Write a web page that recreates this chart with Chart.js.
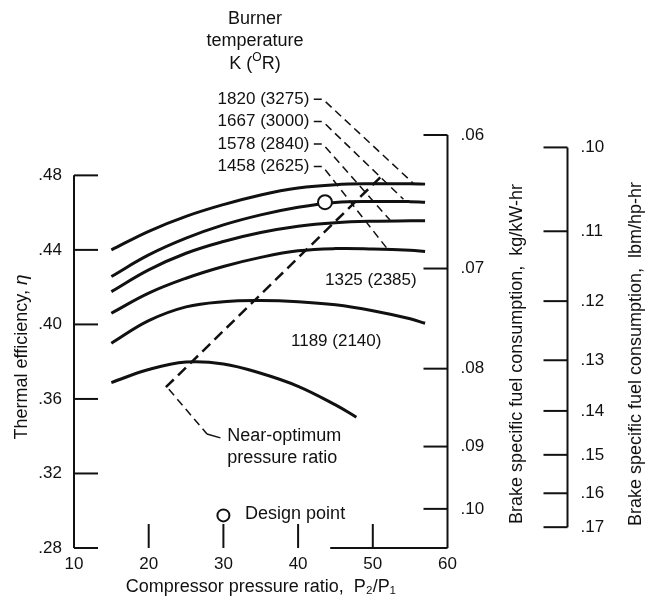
<!DOCTYPE html>
<html>
<head>
<meta charset="utf-8">
<script src="https://cdn.jsdelivr.net/npm/chart.js@4.4.1/dist/chart.umd.min.js"></script>
<style>
  html, body { margin: 0; padding: 0; background: #fff; }
  #wrap { width: 647px; height: 603px; }
</style>
</head>
<body>
<div id="wrap"><canvas id="chart" width="647" height="603"></canvas></div>
<script>
// compressor pressure ratio P2/P1 (x) and thermal efficiency per burner temperature
const pressureRatio = [15, 20, 25, 30, 35, 40, 45, 50, 55, 57];
const eta1820 = [0.4400, 0.4500, 0.4580, 0.4643, 0.4695, 0.4732, 0.4750, 0.4755, 0.4755, 0.4753];
const eta1667 = [0.4257, 0.4373, 0.4463, 0.4534, 0.4588, 0.4629, 0.4655, 0.4660, 0.4659, 0.4656];
const eta1578 = [0.4176, 0.4293, 0.4382, 0.4445, 0.4493, 0.4527, 0.4546, 0.4554, 0.4556, 0.4556];
const eta1458 = [0.4060, 0.4168, 0.4248, 0.4311, 0.4360, 0.4395, 0.4407, 0.4405, 0.4398, 0.4391];
const eta1325 = [0.3899, 0.4020, 0.4094, 0.4122, 0.4128, 0.4122, 0.4105, 0.4073, 0.4030, 0.4006];
// lowest curve stops earlier
const pressureRatioLow = [15, 20, 25, 30, 35, 40, 45, 47.8];
const eta1189 = [0.3688, 0.3758, 0.3798, 0.3788, 0.3738, 0.3668, 0.3568, 0.3502];

const burnerK = ['1820', '1667', '1578', '1458', '1325', '1189'];
const burnerR = ['3275', '3000', '2840', '2625', '2385', '2140'];

// near-optimum pressure ratio line and design point
const optimumX = [22.3, 51.2];
const optimumEta = [0.3663, 0.4797];
const designX = [43.6];
const designEta = [0.4656];

// axes
const xTicks = [10, 20, 30, 40, 50, 60];
const etaTicks = [0.28, 0.32, 0.36, 0.40, 0.44, 0.48];
const bsfcKgTicks = [0.06, 0.07, 0.08, 0.09, 0.10];
const bsfcLbTicks = [0.10, 0.11, 0.12, 0.13, 0.14, 0.15, 0.16, 0.17];
// eta * bsfc (bsfc axes are reciprocal to eta)
const ETA_PER_KG = 0.0301;
const ETA_PER_LB = 0.0495;

const ETA_MIN = 0.28;
const ETA_MAX = ETA_PER_KG / 0.06;

const ink = '#111';
const FAMILY = '"Liberation Sans", Arial, sans-serif';

const fmt = (v) => '.' + v.toFixed(2).split('.')[1];

const curve = (xs, ys) => ({
  data: xs.map((x, i) => ({ x, y: ys[i] })),
  borderColor: ink,
  borderWidth: 3,
  pointRadius: 0,
  fill: false,
  tension: 0.4,
});

const line = (ctx, x1, y1, x2, y2) => {
  ctx.beginPath();
  ctx.moveTo(x1, y1);
  ctx.lineTo(x2, y2);
  ctx.stroke();
};

const vtext = (ctx, parts, cx, cy) => {
  // parts: [[text, font], ...] drawn rotated -90deg, centred on (cx, cy)
  ctx.save();
  ctx.translate(cx, cy);
  ctx.rotate(-Math.PI / 2);
  ctx.textBaseline = 'middle';
  ctx.textAlign = 'left';
  let total = 0;
  parts.forEach(([t, f]) => { ctx.font = f; total += ctx.measureText(t).width; });
  let x = -total / 2;
  parts.forEach(([t, f]) => { ctx.font = f; ctx.fillText(t, x, 0); x += ctx.measureText(t).width; });
  ctx.restore();
};

// leader lines for the upper four temperature labels (data units)
const tempLabelX = 41.5;
const tempLabelEta = [0.5209, 0.5089, 0.4969, 0.4847];
const leaderStartX = 42.1;
const leaderBendX = 43.3;
const leaderEndX = [55.4, 54.1, 52.3, 51.9];
const leaderEndEta = [0.4758, 0.4672, 0.4560, 0.4408];

// scan only shows the bottom axis line from here to the right
const bottomLineFrom = 44.3;

const decor = {
  id: 'decor',
  afterDraw(chart) {
    const { ctx, chartArea: ca, scales } = chart;
    const X = (v) => scales.x.getPixelForValue(v);
    const Y = (v) => scales.y.getPixelForValue(v);
    const TL = 24;

    ctx.save();
    ctx.strokeStyle = ink;
    ctx.fillStyle = ink;
    ctx.lineWidth = 2;

    // left axis + inward ticks
    line(ctx, ca.left, Y(0.48), ca.left, ca.bottom);
    scales.y.ticks.forEach((t) => line(ctx, ca.left, Y(t.value), ca.left + TL, Y(t.value)));

    // bottom axis (partial) + upward ticks
    line(ctx, X(bottomLineFrom), ca.bottom, ca.right, ca.bottom);
    scales.x.ticks.forEach((t) => {
      if (t.value > 10 && t.value < 60) line(ctx, X(t.value), ca.bottom, X(t.value), ca.bottom - TL);
    });

    // kg/kW-hr axis
    line(ctx, ca.right, ca.top, ca.right, ca.bottom);
    scales.kg.ticks.forEach((t) => {
      const p = scales.kg.getPixelForValue(t.value);
      line(ctx, ca.right - TL, p, ca.right, p);
    });

    // lbm/hp-hr axis, standalone
    const lb = scales.lb;
    const lx = lb.left;
    const first = lb.getPixelForValue(lb.ticks[0].value);
    const last = lb.getPixelForValue(lb.ticks[lb.ticks.length - 1].value);
    line(ctx, lx, first, lx, last);
    lb.ticks.forEach((t) => {
      const p = lb.getPixelForValue(t.value);
      line(ctx, lx - TL, p, lx, p);
    });

    // axis titles
    const f18 = `18px ${FAMILY}`;
    vtext(ctx, [['Thermal efficiency, ', f18], ['\u03B7', `italic 19px ${FAMILY}`]], 22, 357);
    vtext(ctx, [['Brake specific fuel consumption,  kg/kW-hr', f18]], 517, 354);
    vtext(ctx, [['Brake specific fuel consumption,  lbm/hp-hr', f18]], 636, 354);

    // header
    ctx.textAlign = 'center';
    ctx.textBaseline = 'middle';
    ctx.font = f18;
    ctx.fillText('Burner', 255, 19);
    ctx.fillText('temperature', 255, 41);
    const a = 'K (', b = 'O', c = 'R)';
    ctx.font = f18;
    const wa = ctx.measureText(a).width, wc = ctx.measureText(c).width;
    ctx.font = `12px ${FAMILY}`;
    const wb = ctx.measureText(b).width;
    let hx = 255 - (wa + wb + wc) / 2;
    ctx.textAlign = 'left';
    ctx.font = f18;
    ctx.fillText(a, hx, 64);
    ctx.font = `12px ${FAMILY}`;
    ctx.fillText(b, hx + wa, 58);
    ctx.font = f18;
    ctx.fillText(c, hx + wa + wb, 64);

    // temperature labels with dashed leaders
    ctx.font = `17px ${FAMILY}`;
    ctx.lineWidth = 1.5;
    for (let i = 0; i < 4; i++) {
      ctx.textAlign = 'right';
      ctx.fillText(`${burnerK[i]} (${burnerR[i]})`, X(tempLabelX), Y(tempLabelEta[i]));
      ctx.setLineDash([8, 5]);
      ctx.beginPath();
      ctx.moveTo(X(leaderStartX), Y(tempLabelEta[i]));
      ctx.lineTo(X(leaderBendX), Y(tempLabelEta[i]));
      ctx.lineTo(X(leaderEndX[i]), Y(leaderEndEta[i]));
      ctx.stroke();
      ctx.setLineDash([]);
    }
    ctx.textAlign = 'left';
    ctx.fillText(`${burnerK[4]} (${burnerR[4]})`, X(43.6), Y(0.4239));
    ctx.fillText(`${burnerK[5]} (${burnerR[5]})`, X(39.05), Y(0.3908));

    // near-optimum leader
    ctx.setLineDash([8, 5]);
    line(ctx, X(22.7), Y(0.3652), X(27.8), Y(0.3412));
    ctx.setLineDash([]);
    line(ctx, X(27.8), Y(0.3412), X(29.6), Y(0.3391));
    ctx.font = f18;
    ctx.fillText('Near-optimum', X(30.5), Y(0.3401));
    ctx.fillText('pressure ratio', X(30.5), Y(0.3283));

    // design point key
    ctx.lineWidth = 2;
    ctx.fillStyle = '#fff';
    ctx.beginPath();
    ctx.arc(X(30.0), Y(0.2975), 6, 0, Math.PI * 2);
    ctx.fill();
    ctx.stroke();
    ctx.fillStyle = ink;
    ctx.fillText('Design point', X(32.9), Y(0.2982));

    ctx.restore();
  },
};

const tickFont = { family: FAMILY, size: 17 };
const noGrid = { display: false, drawTicks: false, tickLength: 0 };
const etaScale = (extra) => Object.assign({
  type: 'linear',
  min: ETA_MIN,
  max: ETA_MAX,
  grid: noGrid,
  border: { display: false },
}, extra);

new Chart(document.getElementById('chart'), {
  type: 'line',
  data: {
    datasets: [
      {
        type: 'scatter',
        data: designX.map((x, i) => ({ x, y: designEta[i] })),
        pointRadius: 7,
        pointBackgroundColor: '#fff',
        pointBorderColor: ink,
        pointBorderWidth: 2,
        order: -1,
      },
      curve(pressureRatio, eta1820),
      curve(pressureRatio, eta1667),
      curve(pressureRatio, eta1578),
      curve(pressureRatio, eta1458),
      curve(pressureRatio, eta1325),
      curve(pressureRatioLow, eta1189),
      {
        data: optimumX.map((x, i) => ({ x, y: optimumEta[i] })),
        borderColor: ink,
        borderWidth: 2.5,
        borderDash: [11, 6],
        pointRadius: 0,
        fill: false,
      },
    ],
  },
  options: {
    responsive: false,
    animation: false,
    layout: { padding: { top: 135, left: 0, right: 0, bottom: 0 } },
    plugins: { legend: { display: false }, tooltip: { enabled: false } },
    scales: {
      x: {
        type: 'linear',
        min: 10,
        max: 60,
        afterFit: (s) => { s.height = 55; },
        afterBuildTicks: (s) => { s.ticks = xTicks.map((v) => ({ value: v })); },
        grid: noGrid,
        border: { display: false },
        ticks: { color: ink, font: tickFont, padding: 6, maxRotation: 0, autoSkip: false },
        title: {
          display: true,
          text: 'Compressor pressure ratio,  P\u2082/P\u2081',
          color: ink,
          font: { family: FAMILY, size: 18 },
          padding: { top: 0, bottom: 5 },
        },
      },
      y: etaScale({
        position: 'left',
        afterFit: (s) => { s.width = 74; },
        afterBuildTicks: (s) => { s.ticks = etaTicks.map((v) => ({ value: v })); },
        ticks: { color: ink, font: tickFont, padding: 12, autoSkip: false, callback: (v) => fmt(v) },
      }),
      kg: etaScale({
        position: 'right',
        weight: 0,
        afterFit: (s) => { s.width = 120; },
        afterBuildTicks: (s) => { s.ticks = bsfcKgTicks.map((b) => ({ value: ETA_PER_KG / b })); },
        ticks: { color: ink, font: tickFont, padding: 13, autoSkip: false, callback: (v, i) => fmt(bsfcKgTicks[i]) },
      }),
      lb: etaScale({
        position: 'right',
        weight: 1,
        afterFit: (s) => { s.width = 79.5; },
        afterBuildTicks: (s) => { s.ticks = bsfcLbTicks.map((b) => ({ value: ETA_PER_LB / b })); },
        ticks: { color: ink, font: tickFont, padding: 13, autoSkip: false, callback: (v, i) => fmt(bsfcLbTicks[i]) },
      }),
    },
  },
  plugins: [decor],
});
</script>
</body>
</html>
